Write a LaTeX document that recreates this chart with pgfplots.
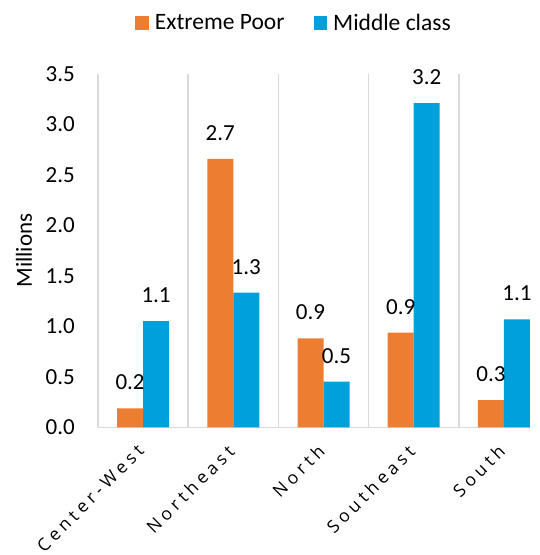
\documentclass[border=0pt]{standalone}
\usepackage{fontspec}
\setmainfont{Carlito}
\newfontfamily\spaced[LetterSpace=24]{Open Sans}
\usepackage{pgfplots}
\pgfplotsset{compat=1.18}
\definecolor{poor}{HTML}{ED7D31}
\definecolor{mid}{HTML}{00A0DC}
\definecolor{gridgray}{HTML}{D9D9D9}

\begin{document}
\begin{tikzpicture}
\useasboundingbox (-98pt,-127.7pt) rectangle (442pt,427.3pt);
\begin{axis}[
    at={(0,0)}, anchor=south west,
    width=433pt, height=353.3pt,
    scale only axis,
    clip=false,
    ybar=0pt, bar width=26pt,
    xmin=-0.5, xmax=4.3,
    ymin=0, ymax=3.5,
    xtick={0,1,2,3,4},
    xticklabels={Center-West, Northeast, North, Southeast, South},
    minor xtick={-0.5,0.5,1.5,2.5,3.5},
    xminorgrids=true,
    minor grid style={gridgray, line width=1.5pt},
    ytick={0,0.5,...,3.5},
    yticklabel={\pgfmathprintnumber[fixed,fixed zerofill,precision=1]{\tick}},
    major tick length=0pt, minor tick length=0pt,
    axis x line*=bottom, axis y line*=left,
    axis line style={gridgray, line width=1.5pt},
    /pgf/number format/assume math mode=true,
    tick label style={font=\fontsize{23}{27}\selectfont, text=black},
    yticklabel style={inner sep=0pt, xshift=-23pt},
    xticklabel style={font=\fontsize{17.5}{21}\selectfont\spaced, inner sep=0pt, xshift=-7pt, yshift=-16pt, rotate=45, anchor=north east},
    ylabel={Millions},
    every axis y label/.style={at={(axis description cs:0,0.5)}, xshift=-66pt, rotate=90, anchor=base, font=\fontsize{23}{27}\selectfont, inner sep=0pt},
    nodes near coords={\pgfmathprintnumber[fixed,fixed zerofill,precision=1]{\pgfplotspointmeta}},
    nodes near coords style={font=\fontsize{23}{27}\selectfont, text=black, inner sep=0pt, anchor=south, yshift=18pt},
    legend style={at={(0.0855,1.145)}, anchor=west, draw=none, fill=none,
        inner sep=0pt, font=\fontsize{23.5}{27}\selectfont,
        nodes={inner sep=0pt},
        /tikz/every odd column/.append style={column sep=6pt},
        /tikz/every even column/.append style={column sep=29pt}},
    legend columns=2,
    sq/.style={legend image code/.code={\fill[##1] (0pt,-6.85pt) rectangle (13.7pt,6.85pt);}},
]
\addplot[fill=poor, draw=none, sq] coordinates {
    (0,0.188) (1,2.659) (2,0.882) (3,0.937) (4,0.270)
};
\addplot[fill=mid, draw=none, sq] coordinates {
    (0,1.053) (1,1.335) (2,0.452) (3,3.211) (4,1.070)
};
\legend{Extreme Poor, Middle class}
\end{axis}
\end{tikzpicture}
\end{document}
